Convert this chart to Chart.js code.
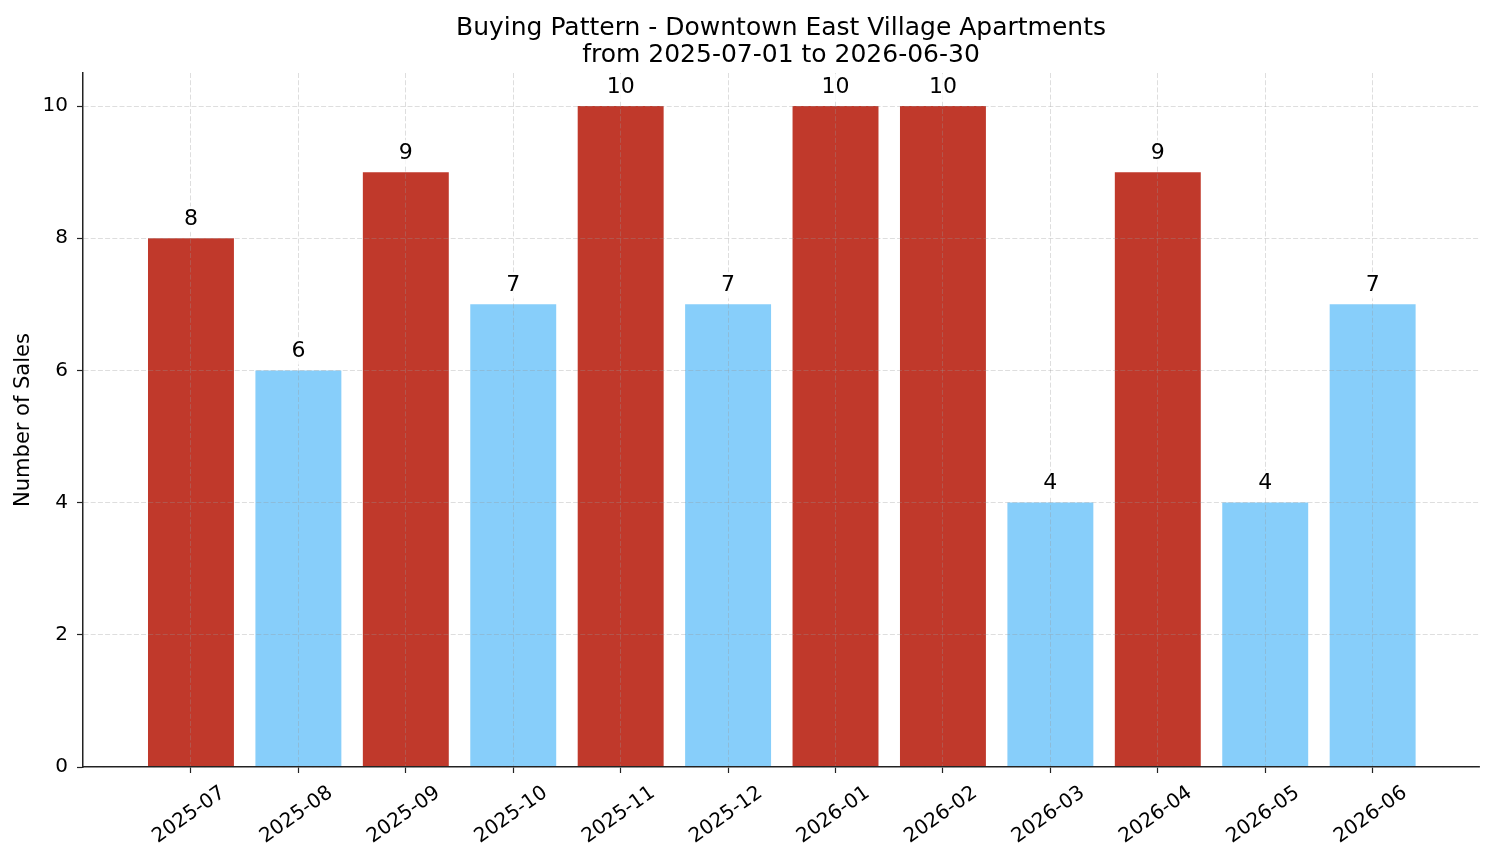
<!DOCTYPE html>
<html>
<head>
<meta charset="utf-8">
<script src="https://cdn.jsdelivr.net/npm/chart.js@4.4.1/dist/chart.umd.min.js"></script>
<style>
  body { margin: 0; background: #fff; }
</style>
</head>
<body>
<canvas id="chart" width="1494" height="863"></canvas>
<script>
// monthly sales
const months = ["2025-07", "2025-08", "2025-09", "2025-10", "2025-11", "2025-12",
                "2026-01", "2026-02", "2026-03", "2026-04", "2026-05", "2026-06"];
const sales = [8, 6, 9, 7, 10, 7, 10, 10, 4, 9, 4, 7];
const yTicks = [0, 2, 4, 6, 8, 10];

const hotColor = '#c0392b';
const coolColor = '#87cefa';
const avg = sales.reduce((a, b) => a + b, 0) / sales.length;

const FONT = "'DejaVu Sans', sans-serif";

// value on top of each bar, drawn after the grid so its box hides the lines
const valueLabels = {
  id: 'valueLabels',
  afterDraw(chart) {
    const ctx = chart.ctx;
    const meta = chart.getDatasetMeta(0);
    ctx.save();
    ctx.font = '22px ' + FONT;
    ctx.textAlign = 'center';
    ctx.textBaseline = 'middle';
    meta.data.forEach((bar, i) => {
      const txt = String(sales[i]);
      const w = ctx.measureText(txt).width;
      const cy = bar.y - 19;
      ctx.fillStyle = 'rgba(255,255,255,0.8)';
      ctx.fillRect(bar.x - w / 2 - 5, cy - 13, w + 10, 26);
      ctx.fillStyle = '#000';
      ctx.fillText(txt, bar.x, cy);
    });
    ctx.restore();
  }
};

// month labels, rotated around their centre
const monthLabels = {
  id: 'monthLabels',
  afterDraw(chart) {
    const ctx = chart.ctx, xs = chart.scales.x;
    ctx.save();
    ctx.font = '20px ' + FONT;
    ctx.fillStyle = '#000';
    ctx.textAlign = 'center';
    ctx.textBaseline = 'middle';
    xs.ticks.forEach((t, i) => {
      ctx.save();
      ctx.translate(xs.getPixelForValue(t.value) - 2, xs.top + 48);
      ctx.rotate(-35 * Math.PI / 180);
      ctx.fillText(months[i], 0, 0);
      ctx.restore();
    });
    ctx.restore();
  }
};

const gridOpts = {
  color: 'rgba(150,150,150,0.4)',
  lineWidth: 0.8,
  z: 1,
  tickLength: 6,
  tickColor: '#222',
  tickWidth: 1.2
};
const borderOpts = { dash: [5, 2.2], color: '#222', width: 1.5, z: 1 };

new Chart(document.getElementById('chart'), {
  type: 'bar',
  data: {
    datasets: [{
      data: months.map((m, i) => ({ x: i, y: sales[i] })),
      backgroundColor: sales.map(v => v > avg ? hotColor : coolColor),
      barPercentage: 0.8,
      categoryPercentage: 1.0
    }]
  },
  options: {
    responsive: false,
    animation: false,
    layout: { padding: { left: 0, right: 15, top: 0, bottom: 0 } },
    plugins: {
      legend: { display: false },
      tooltip: { enabled: false },
      title: {
        display: true,
        fullSize: false,
        text: ['Buying Pattern - Downtown East Village Apartments', 'from 2025-07-01 to 2026-06-30'],
        color: '#000',
        font: { family: FONT, size: 25, weight: 'normal', lineHeight: 1.08 },
        padding: { top: 15, bottom: 4 }
      }
    },
    scales: {
      x: {
        type: 'linear',
        min: -1.005,
        max: 11.99,
        offset: false,
        grid: Object.assign({ offset: false }, gridOpts),
        border: borderOpts,
        ticks: { display: false },
        afterBuildTicks: s => { s.ticks = months.map((m, i) => ({ value: i })); },
        afterFit: s => { s.height = 96; }
      },
      y: {
        min: 0,
        max: 10.5,
        grid: gridOpts,
        border: borderOpts,
        ticks: {
          stepSize: 2,
          includeBounds: false,
          padding: 9,
          color: '#000',
          font: { family: FONT, size: 20 }
        },
        afterBuildTicks: s => { s.ticks = yTicks.map(v => ({ value: v })); },
        afterFit: s => { s.width = 83; },
        title: {
          display: true,
          text: 'Number of Sales',
          color: '#000',
          font: { family: FONT, size: 21 },
          padding: { top: 11, bottom: 0 }
        }
      }
    }
  },
  plugins: [valueLabels, monthLabels]
});
</script>
</body>
</html>
